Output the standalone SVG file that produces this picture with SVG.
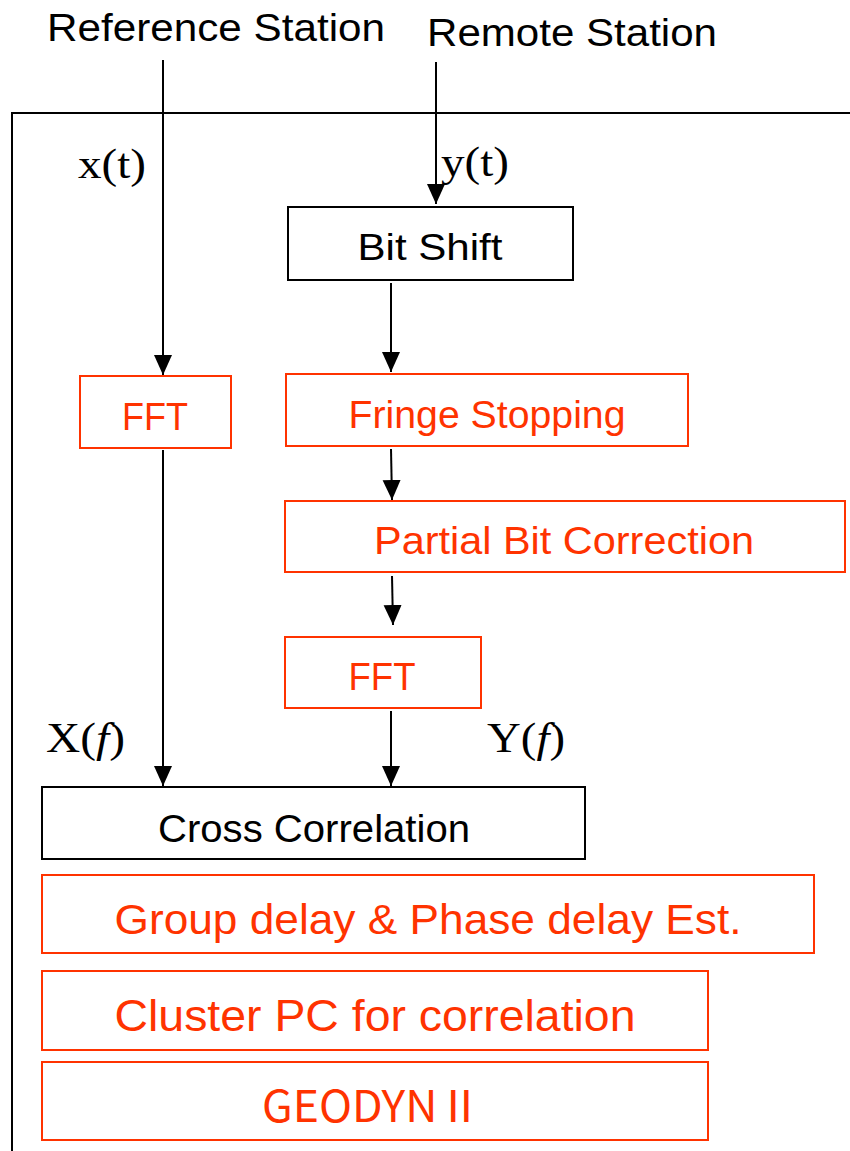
<svg xmlns="http://www.w3.org/2000/svg" width="850" height="1151" viewBox="0 0 850 1151">
  <style>
    .box { fill: #ffffff; stroke-width: 2; }
    .blk { stroke: #000000; }
    .red { stroke: #ff3300; }
    .lbl { font-family: "Liberation Sans", "Noto Sans CJK JP", sans-serif; text-anchor: middle; }
    .cjk { font-family: "Noto Sans CJK JP", "Liberation Sans", sans-serif; }
    .lblk { fill: #000000; }
    .lred { fill: #ff3300; }
    .sig { font-family: "Liberation Serif", serif; font-size: 42px; fill: #000000; }
    .head { font-family: "Liberation Sans", sans-serif; font-size: 38px; fill: #000000; }
    .wire { stroke: #000000; stroke-width: 2; fill: none; }
  </style>
  <defs>
    <marker id="arrow" markerUnits="userSpaceOnUse" markerWidth="20" markerHeight="20" refX="20" refY="9" orient="auto">
      <path d="M0,0 L20,9 L0,18 Z" fill="#000000"/>
    </marker>
  </defs>

  <rect width="850" height="1151" fill="#ffffff"/>

  <!-- outer frame -->
  <g id="frame">
    <path d="M12,1151 L12,113 L850,113" class="wire"/>
  </g>

  <!-- station headings -->
  <text class="head" x="47" y="41" textLength="338" lengthAdjust="spacingAndGlyphs">Reference Station</text>
  <text class="head" x="427" y="46" textLength="290" lengthAdjust="spacingAndGlyphs">Remote Station</text>

  <!-- signal labels -->
  <text class="sig" x="78" y="178" textLength="68" lengthAdjust="spacingAndGlyphs">x(t)</text>
  <text class="sig" x="441" y="176" textLength="68" lengthAdjust="spacingAndGlyphs">y(t)</text>
  <text class="sig" x="46" y="752" textLength="79" lengthAdjust="spacingAndGlyphs">X(<tspan font-style="italic">f</tspan>)</text>
  <text class="sig" x="487" y="752" textLength="78" lengthAdjust="spacingAndGlyphs">Y(<tspan font-style="italic">f</tspan>)</text>

  <!-- connectors -->
  <g id="connectors">
    <line class="wire" x1="163" y1="60" x2="163" y2="375" marker-end="url(#arrow)"/>
    <line class="wire" x1="436" y1="62" x2="436" y2="204" marker-end="url(#arrow)"/>
    <line class="wire" x1="391" y1="283" x2="391" y2="372" marker-end="url(#arrow)"/>
    <line class="wire" x1="391" y1="449" x2="392" y2="500" marker-end="url(#arrow)"/>
    <line class="wire" x1="392" y1="576" x2="393" y2="625" marker-end="url(#arrow)"/>
    <line class="wire" x1="163" y1="450" x2="163" y2="786" marker-end="url(#arrow)"/>
    <line class="wire" x1="391" y1="711" x2="391" y2="786" marker-end="url(#arrow)"/>
  </g>

  <g id="bit-shift">
    <rect class="box blk" x="288" y="207" width="285" height="73"/>
    <text class="lbl lblk" x="430" y="260" font-size="36" textLength="145" lengthAdjust="spacingAndGlyphs">Bit Shift</text>
  </g>

  <g id="fft-ref">
    <rect class="box red" x="80" y="376" width="151" height="72"/>
    <text class="lbl lred" x="155" y="430" font-size="38" textLength="66" lengthAdjust="spacingAndGlyphs">FFT</text>
  </g>

  <g id="fringe-stopping">
    <rect class="box red" x="286" y="374" width="402" height="72"/>
    <text class="lbl lred" x="487" y="428" font-size="38" textLength="277" lengthAdjust="spacingAndGlyphs">Fringe Stopping</text>
  </g>

  <g id="partial-bit-correction">
    <rect class="box red" x="285" y="501" width="560" height="71"/>
    <text class="lbl lred" x="564" y="554" font-size="38" textLength="380" lengthAdjust="spacingAndGlyphs">Partial Bit Correction</text>
  </g>

  <g id="fft-remote">
    <rect class="box red" x="285" y="637" width="196" height="71"/>
    <text class="lbl lred" x="382" y="690" font-size="38" textLength="67" lengthAdjust="spacingAndGlyphs">FFT</text>
  </g>

  <g id="cross-correlation">
    <rect class="box blk" x="42" y="787" width="543" height="72"/>
    <text class="lbl lblk" x="314" y="842" font-size="39" textLength="312" lengthAdjust="spacingAndGlyphs">Cross Correlation</text>
  </g>

  <g id="delay-estimation">
    <rect class="box red" x="42" y="875" width="772" height="78"/>
    <text class="lbl lred" x="428" y="934" font-size="43" textLength="627" lengthAdjust="spacingAndGlyphs">Group delay &amp; Phase delay Est.</text>
  </g>

  <g id="cluster-pc">
    <rect class="box red" x="42" y="971" width="666" height="79"/>
    <text class="lbl lred" x="375" y="1031" font-size="45" textLength="521" lengthAdjust="spacingAndGlyphs">Cluster PC for correlation</text>
  </g>

  <g id="geodyn">
    <rect class="box red" x="42" y="1062" width="666" height="78"/>
    <text class="lbl cjk lred" x="372" y="1122" font-size="44" textLength="220" lengthAdjust="spacingAndGlyphs">GEODYNⅡ</text>
  </g>
</svg>
